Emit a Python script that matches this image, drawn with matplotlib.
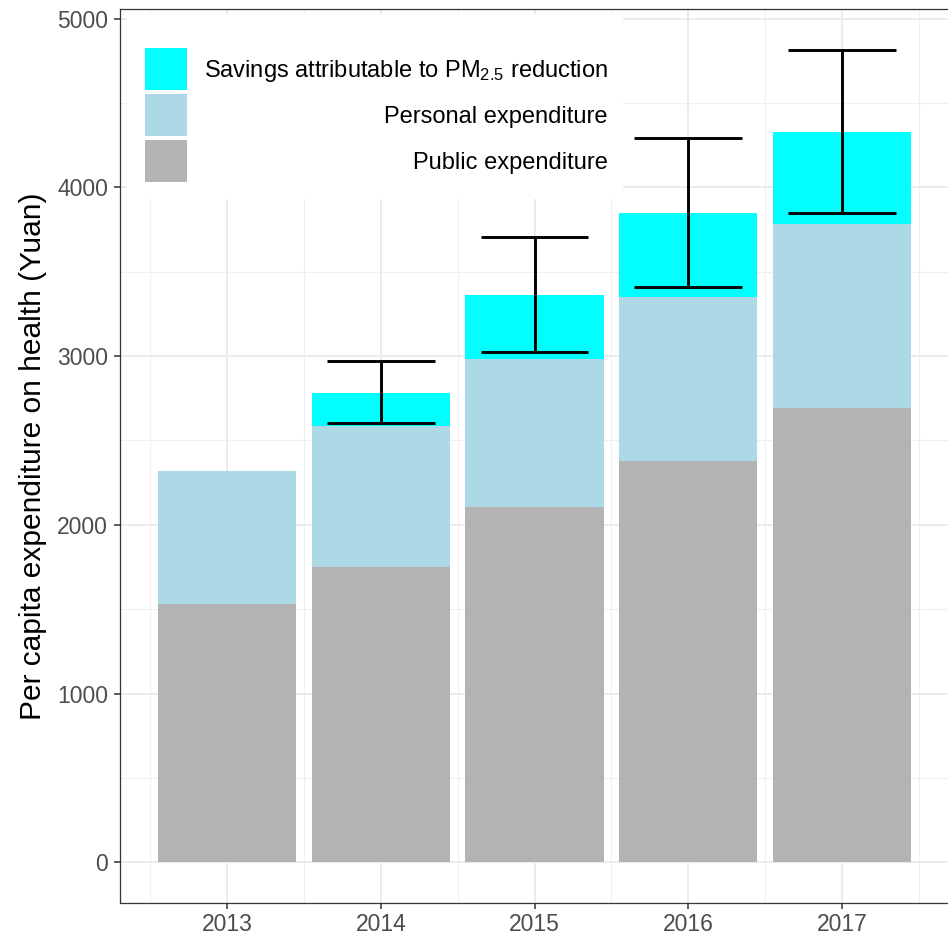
import numpy as np
import matplotlib
matplotlib.use("Agg")
import matplotlib.pyplot as plt
from matplotlib.patches import Rectangle
from matplotlib.ticker import MultipleLocator

plt.rcParams["font.family"] = ["Liberation Sans", "DejaVu Sans"]
plt.rcParams["mathtext.default"] = "regular"

# Per capita health expenditure (Yuan)
years = [2013, 2014, 2015, 2016, 2017]
public = [1532, 1749, 2103, 2381, 2690]
personal = [790, 834, 877, 968, 1093]
savings = [0, 201, 383, 498, 548]
err_low = [np.nan, 2603, 3023, 3408, 3849]
err_high = [np.nan, 2972, 3707, 4291, 4816]

series_labels = ["Savings attributable to PM$_{2.5}$ reduction",
                 "Personal expenditure",
                 "Public expenditure"]
series_colors = ["#00FFFF", "#ADD8E6", "#B3B3B3"]

W, H = 948, 938
fig = plt.figure(figsize=(W / 100, H / 100), dpi=100)
ax = fig.add_axes([120 / W, 1 - 903 / H, 829 / W, 894 / H])

x = np.array(years, dtype=float)
pub = np.array(public, dtype=float)
per = np.array(personal, dtype=float)
sav = np.array(savings, dtype=float)

ax.bar(x, pub, width=0.9, color=series_colors[2], zorder=2)
ax.bar(x, per, width=0.9, bottom=pub, color=series_colors[1], zorder=2)
ax.bar(x, sav, width=0.9, bottom=pub + per, color=series_colors[0], zorder=2)

# error bars with wide caps
lo = np.array(err_low, dtype=float)
hi = np.array(err_high, dtype=float)
ok = ~np.isnan(lo)
ax.vlines(x[ok], lo[ok], hi[ok], color="black", lw=2.1, zorder=3)
ax.hlines(lo[ok], x[ok] - 0.35, x[ok] + 0.35, color="black", lw=2.1, zorder=3)
ax.hlines(hi[ok], x[ok] - 0.35, x[ok] + 0.35, color="black", lw=2.1, zorder=3)

ax.set_xlim(2012.304, 2017.696)
ax.set_ylim(-241, 5057)
ax.set_xticks(years)
ax.set_xticklabels([str(y) for y in years])
ax.xaxis.set_minor_locator(MultipleLocator(1, offset=0.5))
ax.yaxis.set_major_locator(MultipleLocator(1000))
ax.yaxis.set_minor_locator(MultipleLocator(500))

ax.grid(which="major", color="#EBEBEB", lw=1.4, zorder=0)
ax.grid(which="minor", color="#EFEFEF", lw=0.8, zorder=0)
ax.set_axisbelow(True)

for s in ax.spines.values():
    s.set_color("#333333")
    s.set_linewidth(0.9)

ax.tick_params(which="major", length=4.5, width=1.1, color="#333333",
               labelsize=16.5, labelcolor="#4D4D4D", pad=4)
ax.tick_params(axis="x", which="major", pad=2.5)
ax.tick_params(which="minor", length=0)
ax.set_ylabel("Per capita expenditure on health (Yuan)", fontsize=21.5,
              color="black", labelpad=7)

# legend panel drawn inside the plot area, labels right-aligned
def px(xp, yp):
    return xp / W, 1 - yp / H

bx0, by0 = px(127, 199)
bx1, by1 = px(623, 14)
fig.patches.append(Rectangle((bx0, by0), bx1 - bx0, by1 - by0,
                             transform=fig.transFigure, facecolor="white",
                             edgecolor="none", zorder=5))
key_tops = [48, 94, 140]
for i, (lab, col) in enumerate(zip(series_labels, series_colors)):
    kx, ky = px(145, key_tops[i] + 42)
    fig.patches.append(Rectangle((kx, ky), 42 / W, 42 / H,
                                 transform=fig.transFigure, facecolor=col,
                                 edgecolor="none", zorder=6))
    tx, ty = px(608, key_tops[i] + 23)
    fig.text(tx, ty, lab, ha="right", va="center", fontsize=17,
             color="black", zorder=7)

fig.savefig("out.png", dpi=100)
